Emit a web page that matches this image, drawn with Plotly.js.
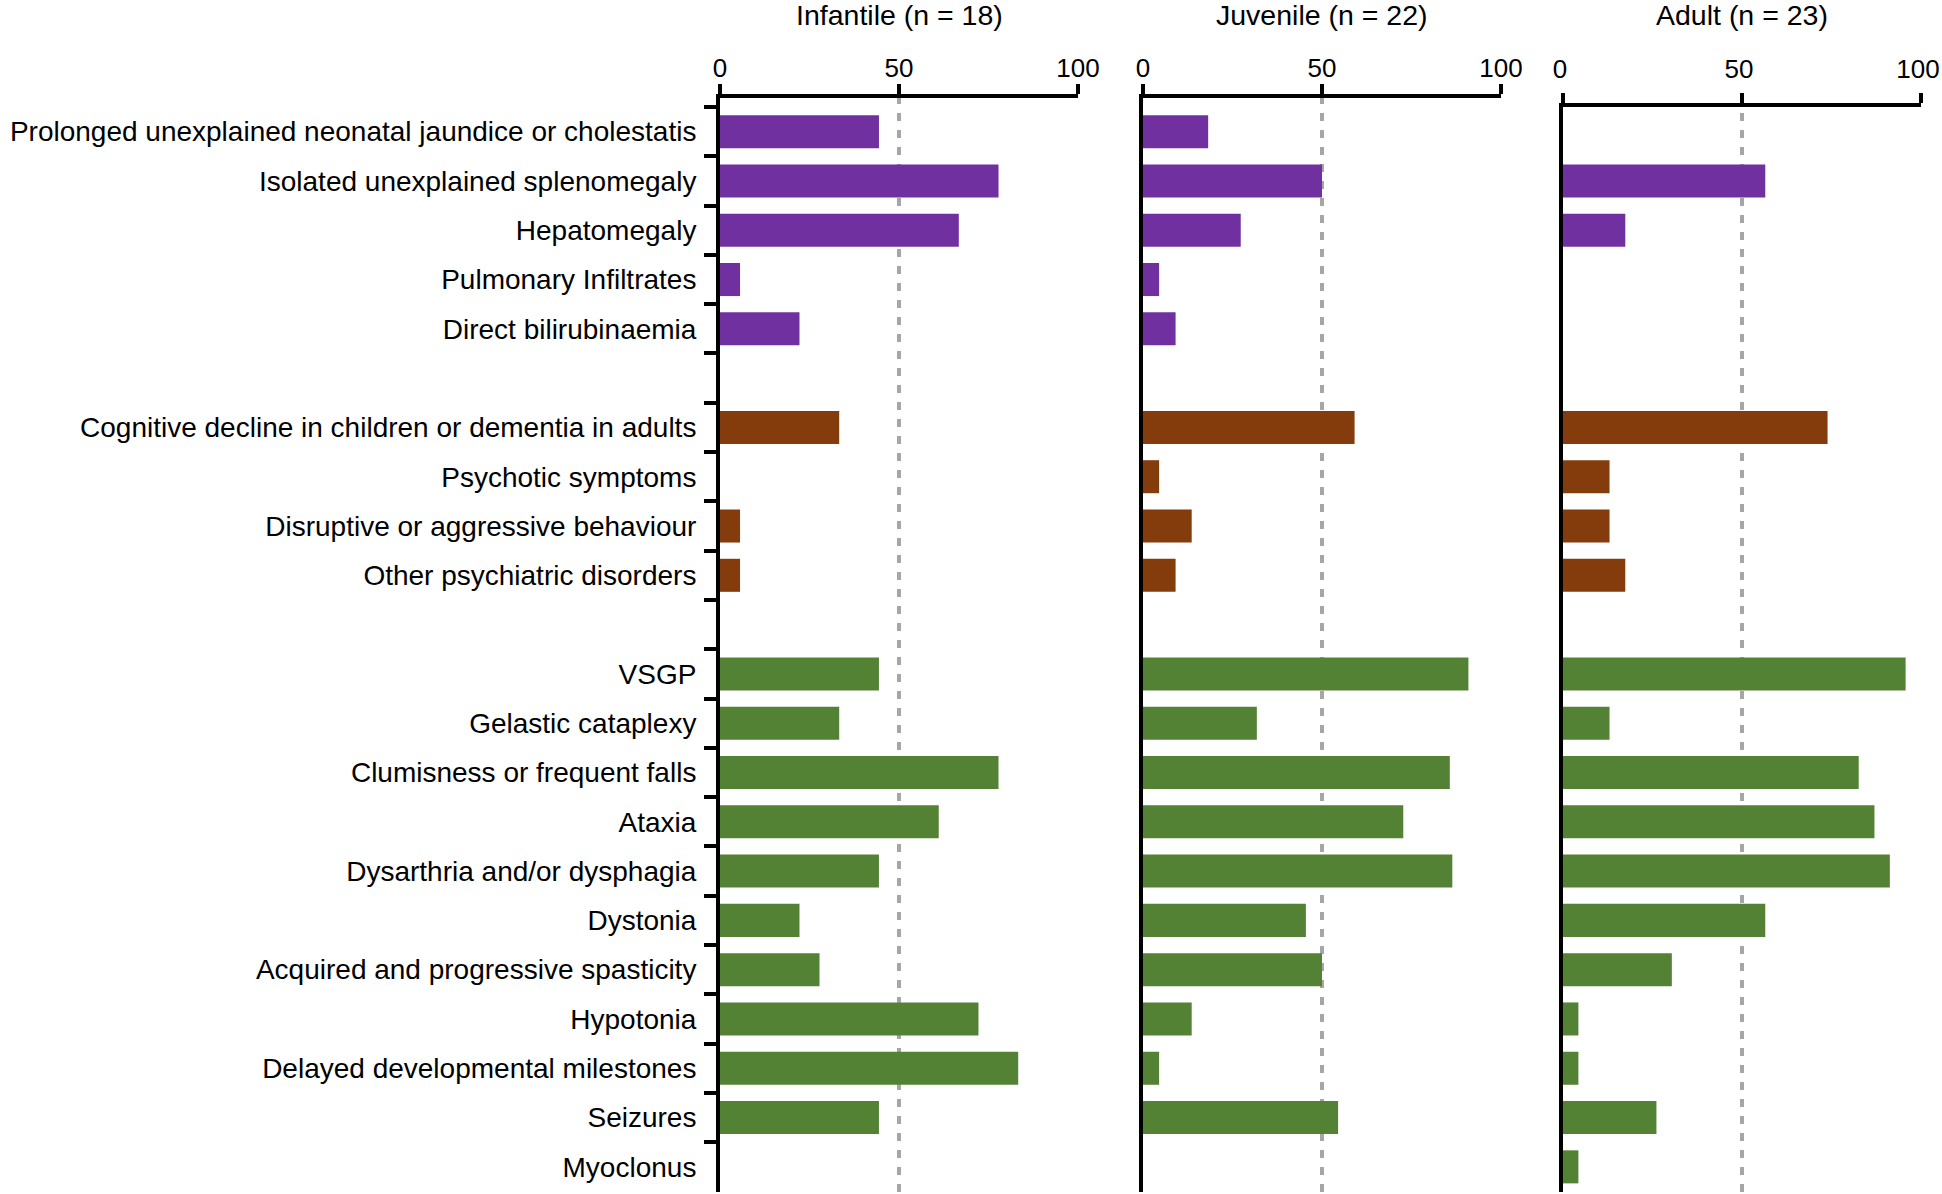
<!DOCTYPE html>
<html><head><meta charset="utf-8">
<script src="https://cdn.plot.ly/plotly-3.0.1.min.js"></script>
<style>html,body{margin:0;padding:0;background:#fff}</style>
</head><body><div id="chart" style="width:1942px;height:1194px"></div>
<script>
// ---- data ----
const liverCategories = ["Prolonged unexplained neonatal jaundice or cholestatis","Isolated unexplained splenomegaly","Hepatomegaly","Pulmonary Infiltrates","Direct bilirubinaemia"];
const psychCategories = ["Cognitive decline in children or dementia in adults","Psychotic symptoms","Disruptive or aggressive behaviour","Other psychiatric disorders"];
const neuroCategories = ["VSGP","Gelastic cataplexy","Clumisness or frequent falls","Ataxia","Dysarthria and/or dysphagia","Dystonia","Acquired and progressive spasticity","Hypotonia","Delayed developmental milestones","Seizures","Myoclonus"];

const panelTitles = ["Infantile (n = 18)","Juvenile (n = 22)","Adult (n = 23)"];
const xTickValues = [0, 50, 100];

const infantileLiver = [44.4, 77.8, 66.7, 5.6, 22.2];
const infantilePsych = [33.3, 0, 5.6, 5.6];
const infantileNeuro = [44.4, 33.3, 77.8, 61.1, 44.4, 22.2, 27.8, 72.2, 83.3, 44.4, 0];

const juvenileLiver = [18.2, 50.0, 27.3, 4.5, 9.1];
const juvenilePsych = [59.1, 4.5, 13.6, 9.1];
const juvenileNeuro = [90.9, 31.8, 85.7, 72.7, 86.4, 45.5, 50.0, 13.6, 4.5, 54.5, 0];

const adultLiver = [0, 56.5, 17.4, 0, 0];
const adultPsych = [73.9, 13.0, 13.0, 17.4];
const adultNeuro = [95.7, 13.0, 82.6, 87.0, 91.3, 56.5, 30.4, 4.3, 4.3, 26.1, 4.3];

// ---- styles ----
const colLiver = "#7030A0", colPsych = "#843C0C", colNeuro = "#548235";
const W = 1942, H = 1194;
const FONT = "Liberation Sans, Arial, Helvetica, sans-serif";
const gap1 = "\u200b", gap2 = "\u200b\u200b";
const LW = 4;

const allCats = [...liverCategories, gap1, ...psychCategories, gap2, ...neuroCategories];
const colors = [...liverCategories.map(()=>colLiver), "#fff", ...psychCategories.map(()=>colPsych), "#fff", ...neuroCategories.map(()=>colNeuro)];

const panels = [
  {liver: infantileLiver, psych: infantilePsych, neuro: infantileNeuro, x0: 720, x1: 1078, top: 98, standoff: -3, shift: 0},
  {liver: juvenileLiver, psych: juvenilePsych, neuro: juvenileNeuro, x0: 1143, x1: 1501, top: 98, standoff: -3, shift: 0},
  {liver: adultLiver, psych: adultPsych, neuro: adultNeuro, x0: 1563, x1: 1921, top: 107, standoff: 5, shift: -3}
];

const fx = p => p / W, fy = p => 1 - p / H;
const rowH = (1191.5 - 107) / 22;
const bottomPx = 1192;

const data = [], layout = {
  width: W, height: H, margin: {l: 0, r: 0, t: 0, b: 0},
  paper_bgcolor: "#fff", plot_bgcolor: "rgba(0,0,0,0)",
  showlegend: false, bargap: 0.33,
  font: {family: FONT, size: 27, color: "#000"},
  shapes: [], annotations: []
};

panels.forEach((p, i) => {
  const sfx = i === 0 ? "" : String(i + 1);
  const xs = [...p.liver, null, ...p.psych, null, ...p.neuro];
  data.push({
    type: "bar", orientation: "h", y: allCats, x: xs,
    xaxis: "x" + sfx, yaxis: "y" + sfx,
    marker: {color: colors, line: {width: 0}},
    hoverinfo: "x+y"
  });
  const topRange = -0.5 - (107 - p.top) / rowH;
  layout["xaxis" + sfx] = {
    domain: [fx(p.x0), fx(p.x1)], range: [0, 100], side: "top", anchor: "y" + sfx,
    tickvals: xTickValues, ticks: "outside", ticklen: 10, tickwidth: LW, tickcolor: "#000",
    showline: true, linewidth: LW, linecolor: "#000", showgrid: false, zeroline: false,
    ticklabeloverflow: "allow", ticklabelstandoff: p.standoff, ticklabelshift: p.shift,
    tickfont: {family: FONT, size: 26, color: "#000"}, fixedrange: true
  };
  layout["yaxis" + sfx] = {
    domain: [fy(bottomPx), fy(p.top)], type: "category",
    categoryorder: "array", categoryarray: allCats,
    range: [21.5 + (bottomPx - 1191.5) / rowH, topRange],
    anchor: "x" + sfx, showline: true, linewidth: LW, linecolor: "#000",
    showgrid: false, zeroline: false, fixedrange: true,
    ticks: i === 0 ? "outside" : "", tickson: "boundaries", ticklen: 12, tickwidth: LW, tickcolor: "#000",
    showticklabels: i === 0, ticklabelstandoff: 14, ticklabeloverflow: "allow",
    tickfont: {family: FONT, size: 28, color: "#000"}
  };
  layout.shapes.push({
    type: "line", layer: "below", xref: "x" + sfx, yref: "paper",
    x0: 50, x1: 50, y0: fy(bottomPx), y1: fy(p.top),
    line: {color: "#a6a6a6", width: 4, dash: "8px,9px"}
  });
  layout.annotations.push({
    text: panelTitles[i], xref: "paper", yref: "paper",
    x: fx((p.x0 + p.x1) / 2), y: fy(15), xanchor: "center", yanchor: "middle",
    showarrow: false, font: {family: FONT, size: 28.5, color: "#000"}
  });
});

Plotly.newPlot("chart", data, layout, {staticPlot: true, displayModeBar: false});
</script></body></html>
